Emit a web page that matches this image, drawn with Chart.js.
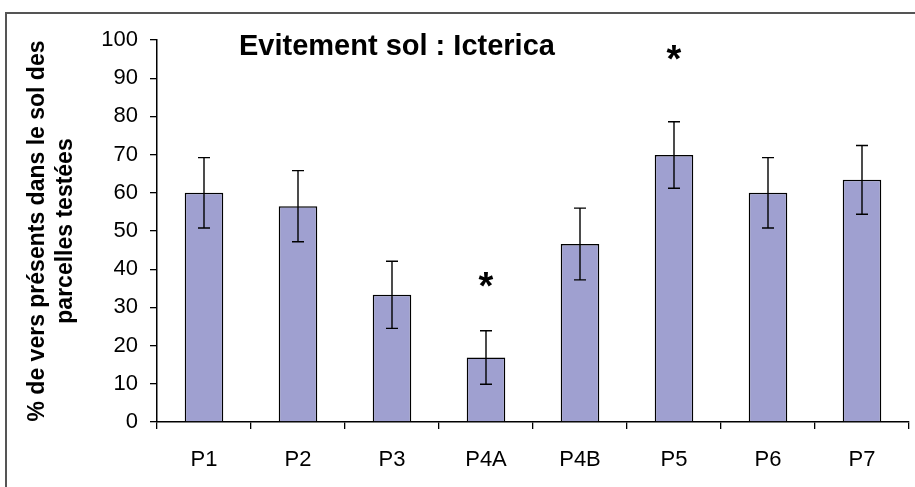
<!DOCTYPE html>
<html>
<head>
<meta charset="utf-8">
<script src="https://cdn.jsdelivr.net/npm/chart.js@4"></script>
<style>
  html, body { margin: 0; padding: 0; background: #fff; }
  #wrap { position: relative; width: 915px; height: 487px; }
  #frame { position: absolute; left: 5px; top: 12px; width: 915px; height: 480px;
           border-left: 2px solid #555; border-top: 2px solid #555; box-sizing: border-box; }
  canvas { position: absolute; left: 0; top: 0; }
</style>
</head>
<body>
<div id="wrap">
  <div id="frame"></div>
  <canvas id="chart" width="915" height="487"></canvas>
</div>
<script>
// data
const parcelles = ["P1", "P2", "P3", "P4A", "P4B", "P5", "P6", "P7"];
const pctVers   = [60, 56.5, 33.3, 16.9, 46.6, 69.9, 60, 63.4];
const erreurs   = [9.2, 9.3, 8.8, 7.0, 9.4, 8.7, 9.2, 9.0];
const etoiles   = [null, null, null, 37, null, 96.5, null, null]; // significant differences
const yTicks    = [0, 10, 20, 30, 40, 50, 60, 70, 80, 90, 100];

const FONT = "Arial, 'Liberation Sans', sans-serif";

// error bars + asterisks + title
const extras = {
  id: "extras",
  afterDatasetsDraw(chart) {
    const ctx = chart.ctx;
    const x = chart.scales.x, y = chart.scales.y;
    ctx.save();
    ctx.strokeStyle = "#000";
    ctx.lineWidth = 1.4;
    pctVers.forEach((v, i) => {
      const cx = x.getPixelForValue(i);
      const top = y.getPixelForValue(v + erreurs[i]);
      const bot = y.getPixelForValue(v - erreurs[i]);
      ctx.beginPath();
      ctx.moveTo(cx, top); ctx.lineTo(cx, bot);
      ctx.moveTo(cx - 6, top); ctx.lineTo(cx + 6, top);
      ctx.moveTo(cx - 6, bot); ctx.lineTo(cx + 6, bot);
      ctx.stroke();
    });
    ctx.fillStyle = "#000";
    ctx.font = "bold 38px " + FONT;
    ctx.textAlign = "center";
    ctx.textBaseline = "middle";
    etoiles.forEach((s, i) => {
      if (s == null) return;
      ctx.fillText("*", x.getPixelForValue(i), y.getPixelForValue(s) + 8);
    });
    ctx.font = "bold 29px " + FONT;
    ctx.textAlign = "left";
    ctx.textBaseline = "alphabetic";
    ctx.fillText("Evitement sol : Icterica", 239, 55);
    ctx.restore();
  }
};

new Chart(document.getElementById("chart"), {
  type: "bar",
  data: {
    labels: parcelles,
    datasets: [{
      data: pctVers,
      backgroundColor: "#9fa0d0",
      borderColor: "#000",
      borderWidth: 1.5,
      categoryPercentage: 1,
      barPercentage: 0.41
    }]
  },
  options: {
    responsive: false,
    animation: false,
    layout: { padding: { left: 24, top: 40, right: 6, bottom: 0 } },
    plugins: { legend: { display: false }, tooltip: { enabled: false } },
    scales: {
      x: {
        grid: { display: true, drawOnChartArea: false, offset: true, tickLength: 7, tickColor: "#000", lineWidth: 1.3 },
        border: { color: "#000", width: 1.5 },
        ticks: { color: "#000", font: { family: FONT, size: 22 }, padding: 18 },
        afterFit(s) { s.height = 65; }
      },
      y: {
        min: 0, max: 100,
        afterBuildTicks(s) { s.ticks = yTicks.map(v => ({ value: v })); },
        grid: { display: true, drawOnChartArea: false, tickLength: 7, tickColor: "#000", lineWidth: 1.3 },
        border: { color: "#000", width: 1.5 },
        ticks: { color: "#000", font: { family: FONT, size: 22 }, padding: 12 },
        title: {
          display: true,
          text: ["% de vers présents dans le sol des", "parcelles testées"],
          color: "#000",
          font: { family: FONT, size: 23, weight: "bold", lineHeight: 1.2 },
          padding: { top: 0, bottom: 8 }
        },
        afterFit(s) { s.width = 133; }
      }
    }
  },
  plugins: [extras]
});
</script>
</body>
</html>
